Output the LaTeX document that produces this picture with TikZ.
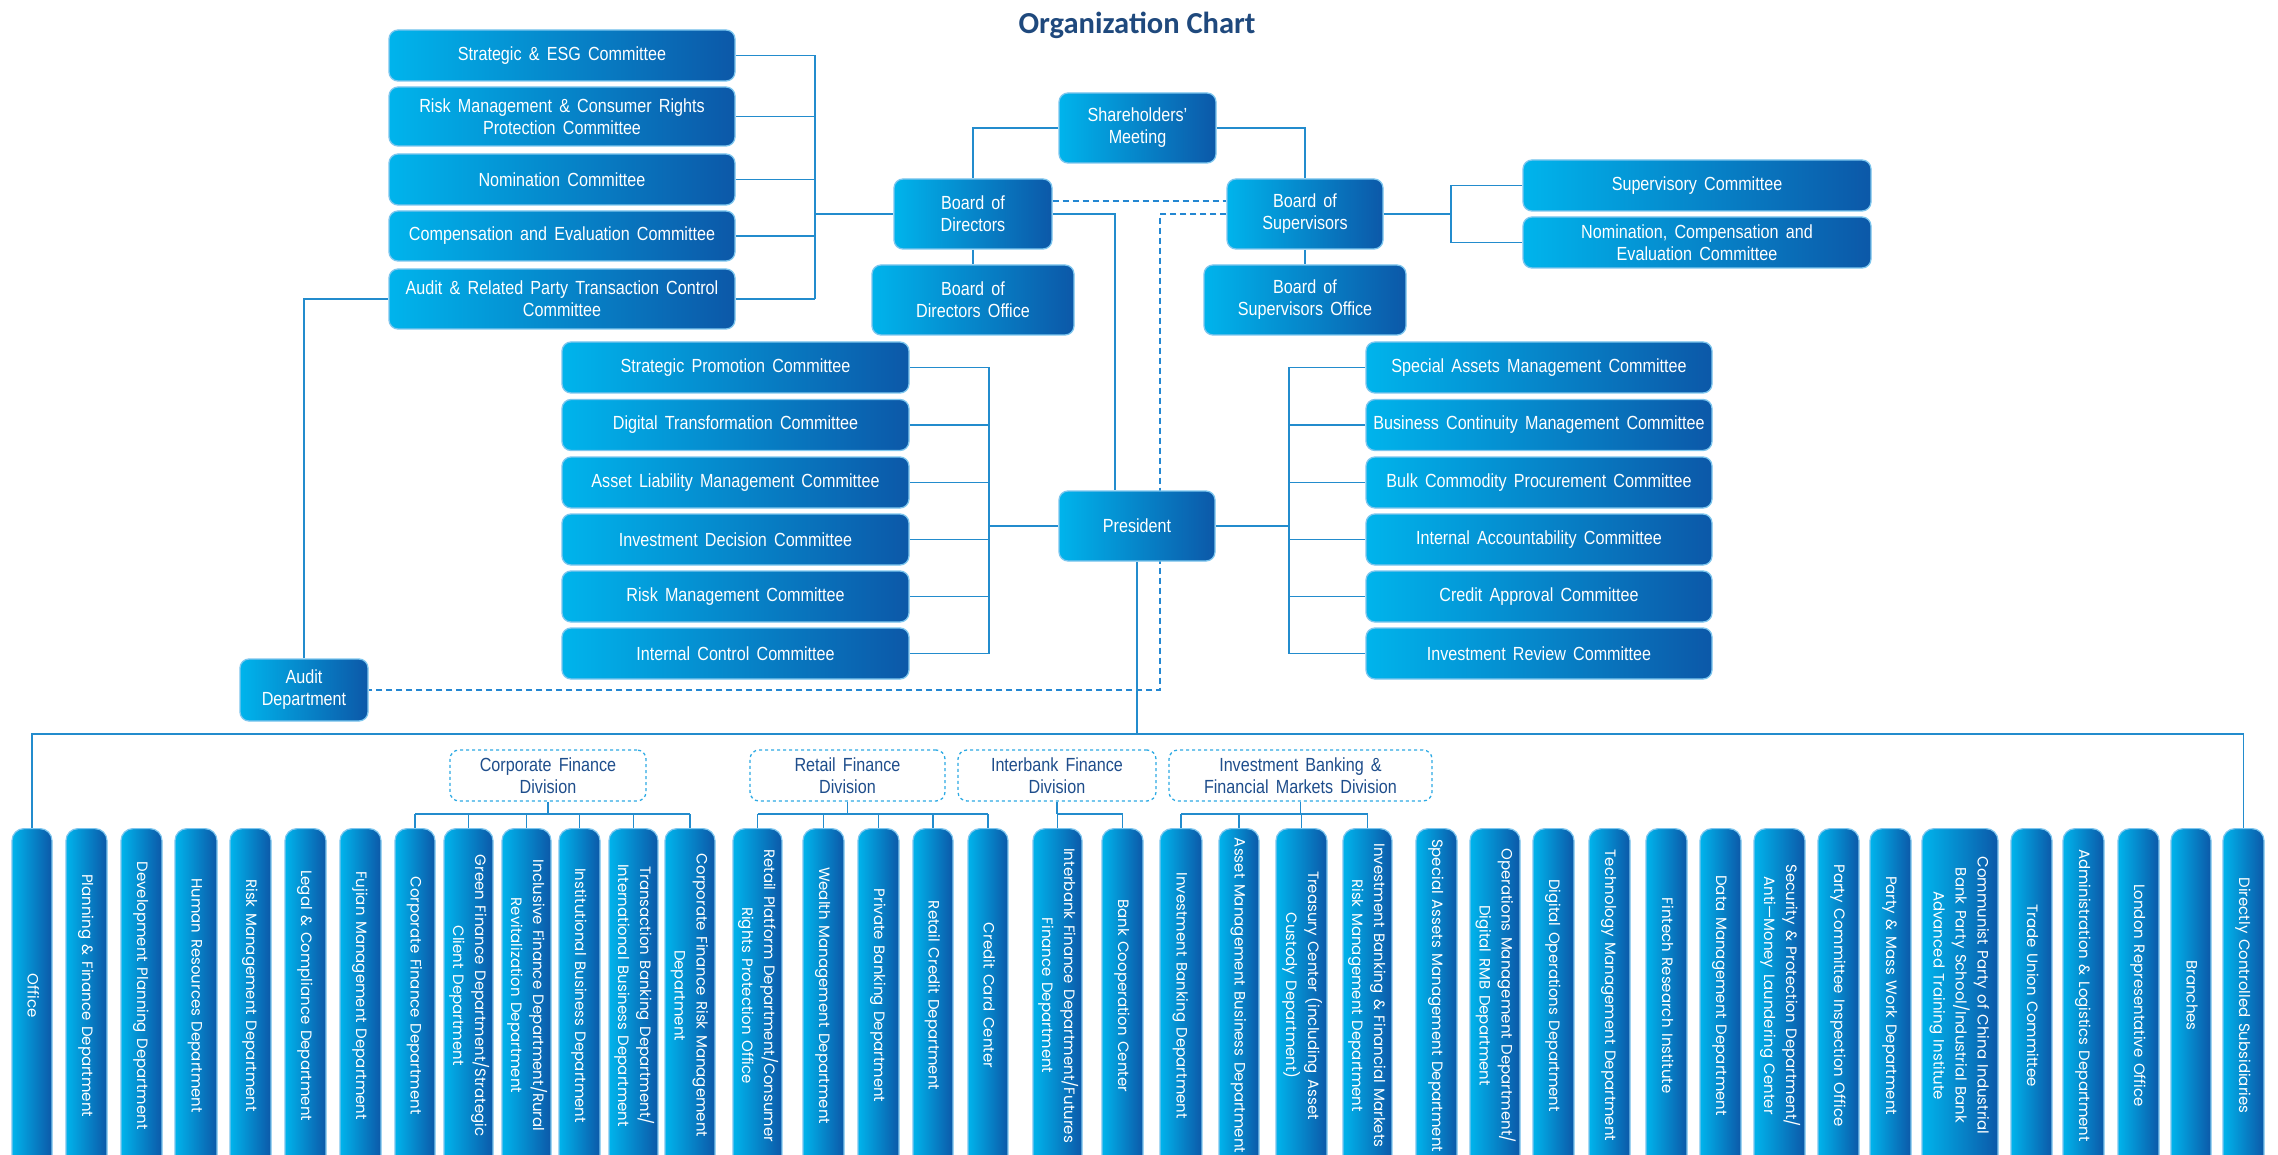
\documentclass[tikz,border=0pt]{standalone}
\usepackage{fontspec}
\usepackage{graphicx}
\usetikzlibrary{backgrounds}
\newfontfamily\boxfont{Liberation Sans}[FakeStretch=0.85,WordSpace=1.6]
\newfontfamily\pillfont{Poppins}[WordSpace=1.4]
\newfontfamily\titlefont{Carlito}
\definecolor{cyanL}{RGB}{0,180,236}
\definecolor{blueR}{RGB}{12,88,168}
\definecolor{edgeC}{RGB}{125,198,238}
\definecolor{lineC}{RGB}{35,140,205}
\definecolor{dashC}{RGB}{35,135,210}
\definecolor{divD}{RGB}{45,170,228}
\definecolor{divT}{RGB}{31,78,140}
\definecolor{titleC}{RGB}{31,73,125}
\newcommand{\pilltext}[1]{\rotatebox{-90}{\begin{tabular}{@{}c@{}}#1\end{tabular}\hspace{38pt}}}
\tikzset{
  orgbox/.style={rectangle, rounded corners=9pt, left color=cyanL, right color=blueR,
    draw=edgeC, line width=1.3pt, text=white, align=center, inner sep=2pt,
    font=\boxfont\fontsize{19}{22}\selectfont},
  pillbox/.style={rectangle, rounded corners=12pt, left color=cyanL, right color=blueR,
    draw=edgeC, line width=1.2pt, text=white, inner sep=0pt, anchor=north,
    minimum height=372pt, font=\pillfont\fontsize{15}{22}\selectfont},
  divbox/.style={rectangle, rounded corners=9pt, draw=divD, dashed, line width=1.3pt,
    fill=white, text=divT, align=center, inner sep=2pt,
    font=\boxfont\fontsize{19}{22}\selectfont},
  link/.style={draw=lineC, line width=1.5pt},
  dlink/.style={draw=dashC, line width=1.5pt, dash pattern=on 6pt off 4pt},
}
\begin{document}
\begin{tikzpicture}[x=1pt,y=-1pt]
\useasboundingbox (0,0) rectangle (2278,1155);
\clip (0,0) rectangle (2278,1155);

\node[font=\titlefont\bfseries\fontsize{30.5}{35}\selectfont, text=titleC] (title) at (1137,25) {Organization Chart};

% top-left committees
\node[orgbox, minimum width=346pt, minimum height=51pt] (sesg) at (562,55.5) {Strategic \& ESG Committee};
\node[orgbox, minimum width=346pt, minimum height=59pt] (rmcr) at (562,116.5) {Risk Management \& Consumer Rights\\Protection Committee};
\node[orgbox, minimum width=346pt, minimum height=51pt] (nom) at (562,179.5) {Nomination Committee};
\node[orgbox, minimum width=346pt, minimum height=50pt] (comp) at (562,236) {Compensation and Evaluation Committee};
\node[orgbox, minimum width=346pt, minimum height=60pt] (audrp) at (562,299) {Audit \& Related Party Transaction Control\\Committee};

% governance
\node[orgbox, minimum width=157pt, minimum height=70pt] (sh) at (1137.5,128) {Shareholders’\\Meeting};
\node[orgbox, minimum width=158pt, minimum height=70pt] (bod) at (973,214) {Board of\\Directors};
\node[orgbox, minimum width=202pt, minimum height=70pt] (bodo) at (973,300) {Board of\\Directors Office};
\node[orgbox, minimum width=156pt, minimum height=70pt] (bos) at (1305,214) {Board of\\Supervisors};
\node[orgbox, minimum width=202pt, minimum height=70pt] (boso) at (1305,300) {Board of\\Supervisors Office};
\node[orgbox, minimum width=348pt, minimum height=51pt] (supc) at (1697,185.5) {Supervisory Committee};
\node[orgbox, minimum width=348pt, minimum height=51pt] (nce) at (1697,242.5) {Nomination, Compensation and\\Evaluation Committee};
\node[orgbox, minimum width=156pt, minimum height=70pt] (pres) at (1137,526) {President};

% president committees left
\node[orgbox, minimum width=347pt, minimum height=51pt] (pl1) at (735.5,367.5) {Strategic Promotion Committee};
\node[orgbox, minimum width=347pt, minimum height=51pt] (pl2) at (735.5,425) {Digital Transformation Committee};
\node[orgbox, minimum width=347pt, minimum height=51pt] (pl3) at (735.5,482.5) {Asset Liability Management Committee};
\node[orgbox, minimum width=347pt, minimum height=51pt] (pl4) at (735.5,539.5) {Investment Decision Committee};
\node[orgbox, minimum width=347pt, minimum height=51pt] (pl5) at (735.5,596.5) {Risk Management Committee};
\node[orgbox, minimum width=347pt, minimum height=51pt] (pl6) at (735.5,653.5) {Internal Control Committee};
% right
\node[orgbox, minimum width=346pt, minimum height=51pt] (pr1) at (1539,367.5) {Special Assets Management Committee};
\node[orgbox, minimum width=346pt, minimum height=51pt] (pr2) at (1539,425) {Business Continuity Management Committee};
\node[orgbox, minimum width=346pt, minimum height=51pt] (pr3) at (1539,482.5) {Bulk Commodity Procurement Committee};
\node[orgbox, minimum width=346pt, minimum height=51pt] (pr4) at (1539,539.5) {Internal Accountability Committee};
\node[orgbox, minimum width=346pt, minimum height=51pt] (pr5) at (1539,596.5) {Credit Approval Committee};
\node[orgbox, minimum width=346pt, minimum height=51pt] (pr6) at (1539,653.5) {Investment Review Committee};

\node[orgbox, minimum width=128pt, minimum height=62pt] (audit) at (304,690) {Audit\\Department};

% divisions
\node[divbox, minimum width=196pt, minimum height=51pt] (cfd) at (548,775.5) {Corporate Finance\\Division};
\node[divbox, minimum width=195pt, minimum height=51pt] (rfd) at (847.5,775.5) {Retail Finance\\Division};
\node[divbox, minimum width=198pt, minimum height=51pt] (ifd) at (1057,775.5) {Interbank Finance\\Division};
\node[divbox, minimum width=263pt, minimum height=51pt] (ibd) at (1300.5,775.5) {Investment Banking \&\\Financial Markets Division};

% departments
\node[pillbox, minimum width=40pt] (p1) at (32,828) {\pilltext{Office}};
\node[pillbox, minimum width=41pt] (p2) at (86.5,828) {\pilltext{Planning \& Finance Department}};
\node[pillbox, minimum width=41pt] (p3) at (141.5,828) {\pilltext{Development Planning Department}};
\node[pillbox, minimum width=42pt] (p4) at (196,828) {\pilltext{Human Resources Department}};
\node[pillbox, minimum width=41pt] (p5) at (250.5,828) {\pilltext{Risk Management Department}};
\node[pillbox, minimum width=41pt] (p6) at (305.5,828) {\pilltext{Legal \& Compliance Department}};
\node[pillbox, minimum width=41pt] (p7) at (360.5,828) {\pilltext{Fujian Management Department}};
\node[pillbox, minimum width=40pt] (p8) at (415,828) {\pilltext{Corporate Finance Department}};
\node[pillbox, minimum width=49pt] (p9) at (468.5,828) {\pilltext{Green Finance Department/Strategic\\Client Department}};
\node[pillbox, minimum width=49pt] (p10) at (526.5,828) {\pilltext{Inclusive Finance Department/Rural\\Revitalization Department}};
\node[pillbox, minimum width=41pt] (p11) at (579.5,828) {\pilltext{Institutional Business Department}};
\node[pillbox, minimum width=49pt] (p12) at (633.5,828) {\pilltext{Transaction Banking Department/\\International Business Department}};
\node[pillbox, minimum width=50pt] (p13) at (690,828) {\pilltext{Corporate Finance Risk Management\\Department}};
\node[pillbox, minimum width=49pt] (p14) at (757.5,828) {\pilltext{Retail Platform Department/Consumer\\Rights Protection Office}};
\node[pillbox, minimum width=41pt] (p15) at (823.5,828) {\pilltext{Wealth Management Department}};
\node[pillbox, minimum width=41pt] (p16) at (878.5,828) {\pilltext{Private Banking Department}};
\node[pillbox, minimum width=40pt] (p17) at (933,828) {\pilltext{Retail Credit Department}};
\node[pillbox, minimum width=40pt] (p18) at (988,828) {\pilltext{Credit Card Center}};
\node[pillbox, minimum width=49pt] (p19) at (1057.5,828) {\pilltext{Interbank Finance Department/Futures\\Finance Department}};
\node[pillbox, minimum width=41pt] (p20) at (1122.5,828) {\pilltext{Bank Cooperation Center}};
\node[pillbox, minimum width=42pt] (p21) at (1181,828) {\pilltext{Investment Banking Department}};
\node[pillbox, minimum width=40pt] (p22) at (1239,828) {\pilltext{Asset Management Business Department}};
\node[pillbox, minimum width=51pt] (p23) at (1301.5,828) {\pilltext{Treasury Center (including Asset\\Custody Department)}};
\node[pillbox, minimum width=49pt] (p24) at (1367.5,828) {\pilltext{Investment Banking \& Financial Markets\\Risk Management Department}};
\node[pillbox, minimum width=41pt] (p25) at (1436.5,828) {\pilltext{Special Assets Management Department}};
\node[pillbox, minimum width=50pt] (p26) at (1495,828) {\pilltext{Operations Management Department/\\Digital RMB Department}};
\node[pillbox, minimum width=41pt] (p27) at (1553.5,828) {\pilltext{Digital Operations Department}};
\node[pillbox, minimum width=41pt] (p28) at (1609.5,828) {\pilltext{Technology Management Department}};
\node[pillbox, minimum width=41pt] (p29) at (1666.5,828) {\pilltext{Fintech Research Institute}};
\node[pillbox, minimum width=41pt] (p30) at (1720.5,828) {\pilltext{Data Management Department}};
\node[pillbox, minimum width=51pt] (p31) at (1779.5,828) {\pilltext{Security \& Protection Department/\\Anti—Money Laundering Center}};
\node[pillbox, minimum width=41pt] (p32) at (1838.5,828) {\pilltext{Party Committee Inspection Office}};
\node[pillbox, minimum width=41pt] (p33) at (1890.5,828) {\pilltext{Party \& Mass Work Department}};
\node[pillbox, minimum width=76pt] (p34) at (1960,828) {\pilltext{Communist Party of China Industrial\\Bank Party School/Industrial Bank\\Advanced Training Institute}};
\node[pillbox, minimum width=41pt] (p35) at (2031.5,828) {\pilltext{Trade Union Committee}};
\node[pillbox, minimum width=41pt] (p36) at (2083.5,828) {\pilltext{Administration \& Logistics Department}};
\node[pillbox, minimum width=41pt] (p37) at (2138.5,828) {\pilltext{London Representative Office}};
\node[pillbox, minimum width=40pt] (p38) at (2191,828) {\pilltext{Branches}};
\node[pillbox, minimum width=41pt] (p39) at (2243.5,828) {\pilltext{Directly Controlled Subsidiaries}};

\begin{scope}[on background layer]
\fill[white] (0,0) rectangle (2278,1155);
\coordinate (tlx) at (815,0);
\coordinate (bsx) at (1451,0);
\coordinate (bpx) at (1115,0);
\coordinate (dvx) at (1160,0);
\coordinate (plx) at (989,0);
\coordinate (prx) at (1289,0);
\coordinate (busy) at (0,734);
\coordinate (sby) at (0,814);
% board committees
\foreach \n in {sesg,rmcr,nom,comp,audrp} \draw[link] (\n.east) -- (\n.east -| tlx);
\draw[link] (sesg.east -| tlx) -- (audrp.east -| tlx);
\draw[link] (bod.west) -- (bod.west -| tlx);
% shareholders
\draw[link] (sh.west) -| (bod.north);
\draw[link] (sh.east) -| (bos.north);
\draw[link] (bod.south) -- (bodo.north);
\draw[link] (bos.south) -- (boso.north);
% supervisors committees
\draw[link] (bos.east) -- (bos.east -| bsx);
\draw[link] (supc.west) -- (supc.west -| bsx) -- (nce.west -| bsx) -- (nce.west);
% board to president
\draw[link] (bod.east) -| (bpx |- pres.north);
% dashed
\draw[dlink] ([yshift=13pt]bod.east) -- ([yshift=13pt]bos.west);
\draw[dlink] (bos.west) -| (dvx |- audit.east) -- (audit.east);
% audit
\draw[link] (audit.north) |- (audrp.west);
% president committees
\foreach \n in {pl1,pl2,pl3,pl4,pl5,pl6} \draw[link] (\n.east) -- (\n.east -| plx);
\draw[link] (pl1.east -| plx) -- (pl6.east -| plx);
\draw[link, line width=2.5pt] (pres.west) -- (pres.west -| plx);
\foreach \n in {pr1,pr2,pr3,pr4,pr5,pr6} \draw[link] (\n.west) -- (\n.west -| prx);
\draw[link] (pr1.west -| prx) -- (pr6.west -| prx);
\draw[link, line width=2.5pt] (pres.east) -- (pres.east -| prx);
% bus
\draw[link] (pres.south) -- (pres.south |- busy);
\draw[link] (p1.north) -- (p1.north |- busy) -- (p39.north |- busy) -- (p39.north);
% divisions
\foreach \dv/\pa/\pb in {cfd/p8/p13, rfd/p14/p18, ifd/p19/p20, ibd/p21/p24} {
  \draw[link] (\dv.south) -- (\dv.south |- sby);
  \draw[link] (\pa.north |- sby) -- (\pb.north |- sby);
}
\foreach \i in {8,...,24} \draw[link] (p\i.north) -- (p\i.north |- sby);
\end{scope}
\end{tikzpicture}
\end{document}
